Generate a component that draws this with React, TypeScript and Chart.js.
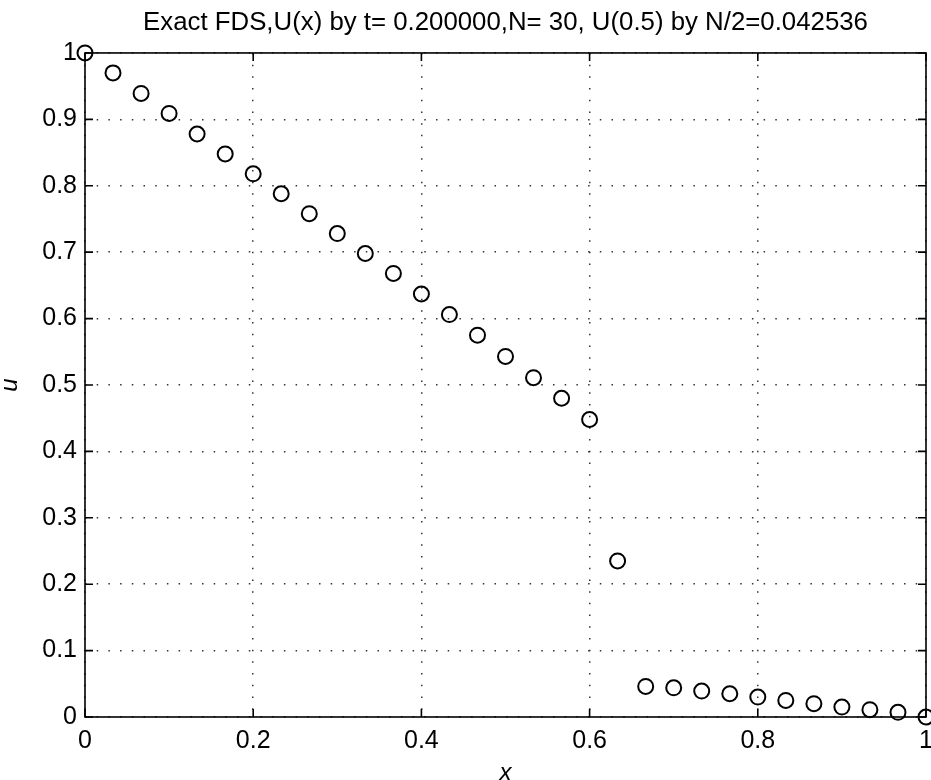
import React, { useEffect, useRef } from 'react';
import { Chart, registerables } from 'chart.js';

Chart.register(...registerables);

// Grid nodes x_i = i/N for N = 30
const xValues = [
  0, 0.0333, 0.0667, 0.1, 0.1333, 0.1667, 0.2, 0.2333, 0.2667, 0.3, 0.3333,
  0.3667, 0.4, 0.4333, 0.4667, 0.5, 0.5333, 0.5667, 0.6, 0.6333, 0.6667,
  0.7, 0.7333, 0.7667, 0.8, 0.8333, 0.8667, 0.9, 0.9333, 0.9667, 1,
];

// Computed solution U(x) at t = 0.2
const uValues = [
  1.0, 0.97, 0.939, 0.909, 0.878, 0.848, 0.818, 0.788, 0.758, 0.728, 0.698,
  0.668, 0.637, 0.606, 0.575, 0.543, 0.511, 0.48, 0.448, 0.235, 0.046,
  0.044, 0.039, 0.035, 0.03, 0.025, 0.02, 0.015, 0.011, 0.007, 0.0,
];

const xTickLabels = ['0', '0.2', '0.4', '0.6', '0.8', '1'];
const yTickLabels = ['0', '0.1', '0.2', '0.3', '0.4', '0.5', '0.6', '0.7', '0.8', '0.9', '1'];

const titleText = 'Exact FDS,U(x) by t= 0.200000,N= 30, U(0.5) by N/2=0.042536';
const xAxisTitle = 'x';
const yAxisTitle = 'u';

const FONT = '"Liberation Sans", Arial, Helvetica, sans-serif';

// Box around the axes with inward tick marks on all four sides
const framePlugin = {
  id: 'frame',
  beforeDatasetsDraw(chart: any) {
    const { ctx, chartArea } = chart;
    const { left, right, top, bottom } = chartArea;
    const xs = chart.scales.x;
    const ys = chart.scales.y;
    const len = 8;
    ctx.save();
    ctx.strokeStyle = '#000';
    ctx.lineWidth = 1.6;
    ctx.beginPath();
    xs.ticks.forEach((t: any) => {
      const px = xs.getPixelForValue(t.value);
      ctx.moveTo(px, bottom);
      ctx.lineTo(px, bottom - len);
      ctx.moveTo(px, top);
      ctx.lineTo(px, top + len);
    });
    ys.ticks.forEach((t: any) => {
      const py = ys.getPixelForValue(t.value);
      ctx.moveTo(left, py);
      ctx.lineTo(left + len, py);
      ctx.moveTo(right, py);
      ctx.lineTo(right - len, py);
    });
    ctx.stroke();
    ctx.strokeRect(left, top, right - left, bottom - top);
    ctx.restore();
  },
};

export default function App() {
  const canvasRef = useRef<HTMLCanvasElement | null>(null);

  useEffect(() => {
    const canvas = canvasRef.current;
    if (!canvas) return;
    const points = xValues.map((x, i) => ({ x, y: uValues[i] }));

    const chart = new Chart(canvas, {
      type: 'scatter',
      data: {
        datasets: [
          {
            data: points,
            showLine: false,
            pointStyle: 'circle',
            pointRadius: 7.5,
            pointHoverRadius: 7.5,
            pointBorderWidth: 2,
            pointBorderColor: '#000',
            pointBackgroundColor: 'rgba(0,0,0,0)',
            clip: false,
          } as any,
        ],
      },
      options: {
        responsive: false,
        animation: false,
        events: [],
        layout: { autoPadding: false, padding: { left: 0, top: 0, right: 5, bottom: 0 } },
        plugins: {
          legend: { display: false },
          tooltip: { enabled: false },
          title: {
            display: true,
            text: titleText,
            fullSize: false,
            color: '#000',
            font: { family: FONT, size: 25.8, weight: 'normal', lineHeight: 1.2 },
            padding: { top: 7, bottom: 15 },
          },
        },
        scales: {
          x: {
            type: 'linear',
            min: 0,
            max: 1,
            afterFit(scale: any) {
              scale.height = 63;
              scale.paddingLeft = 0;
              scale.paddingRight = 0;
            },
            ticks: {
              stepSize: 0.2,
              autoSkip: false,
              maxRotation: 0,
              padding: 9,
              color: '#000',
              font: { family: FONT, size: 25, lineHeight: 1.2 },
              callback: (_v: any, i: number) => xTickLabels[i],
            },
            grid: { color: '#333', lineWidth: 1.5, drawTicks: false },
            border: { display: false, dash: [1.5, 10.2] },
            title: {
              display: true,
              text: xAxisTitle,
              color: '#000',
              font: { family: FONT, size: 24, style: 'italic', lineHeight: 0.9 },
              padding: { top: 0, bottom: -4 },
            },
          },
          y: {
            type: 'linear',
            min: 0,
            max: 1,
            afterFit(scale: any) {
              scale.width = 85;
              scale.paddingTop = 0;
              scale.paddingBottom = 0;
            },
            ticks: {
              stepSize: 0.1,
              autoSkip: false,
              padding: 8,
              color: '#000',
              font: { family: FONT, size: 25, lineHeight: 1.2 },
              callback: (_v: any, i: number) => yTickLabels[i],
            },
            grid: { color: '#333', lineWidth: 1.5, drawTicks: false },
            border: { display: false, dash: [1.5, 10.2] },
            title: {
              display: true,
              text: yAxisTitle,
              color: '#000',
              font: { family: FONT, size: 24, style: 'italic', lineHeight: 0.9 },
              padding: { top: 0, bottom: 0 },
            },
          },
        },
      },
      plugins: [framePlugin],
    });

    return () => chart.destroy();
  }, []);

  return (
    <div style={{ position: 'absolute', left: 0, top: 0, width: 931, height: 780, background: '#fff' }}>
      <canvas ref={canvasRef} width={931} height={780} />
    </div>
  );
}
